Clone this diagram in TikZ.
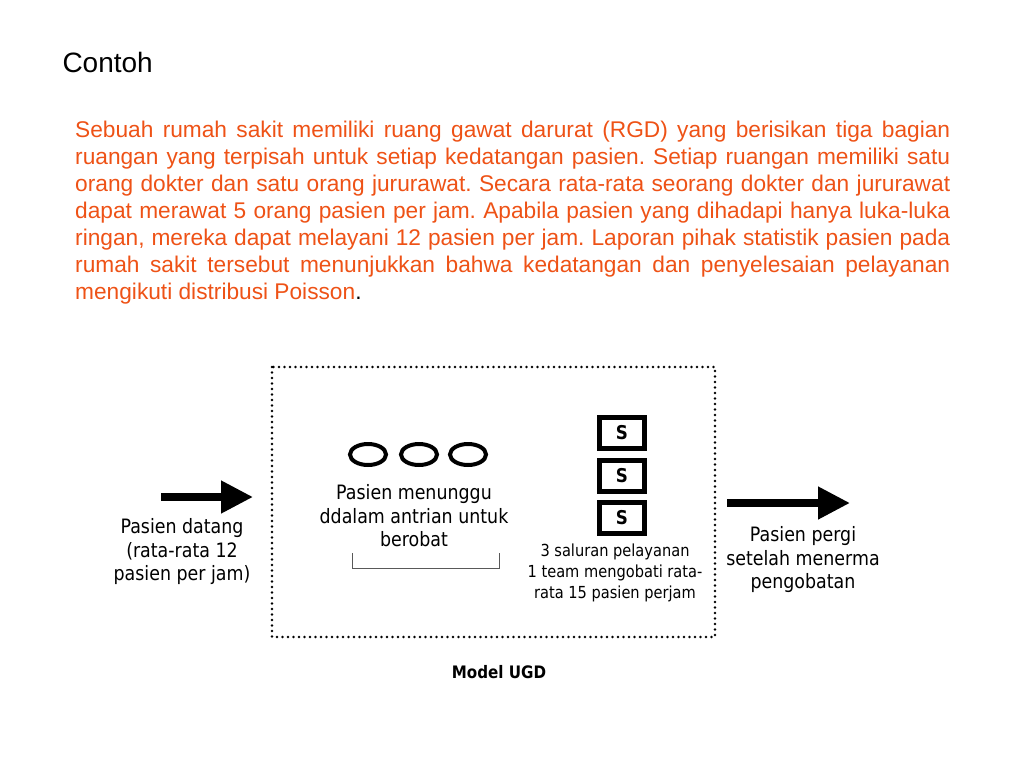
\documentclass[tikz,border=0pt]{standalone}
\usepackage{fontspec}
\setmainfont{Liberation Sans}
\newfontfamily\diagfont{DejaVu Sans}[FakeStretch=0.88]
\usetikzlibrary{positioning, arrows.meta, calc, shapes.geometric}

\definecolor{soalred}{RGB}{238,82,22}

\tikzset{
    antri/.style={draw, ellipse, line width=4pt, minimum width=36pt, minimum height=21pt, inner sep=0pt},
    server/.style={draw, line width=5pt, minimum width=45pt, minimum height=31pt, inner sep=0pt,
        font=\diagfont\bfseries\fontsize{19}{19}\selectfont},
    ket/.style={align=center, font=\diagfont\fontsize{19.8}{23.5}\selectfont},
    ketkecil/.style={align=center, font=\diagfont\fontsize{16.6}{21}\selectfont},
    panah/.style={line width=7.5pt, -{Triangle[length=32pt, width=31pt]}}
}

\begin{document}
\begin{tikzpicture}[x=1pt, y=-1pt]
    \useasboundingbox (0,0) rectangle (1024,768);

    % --- judul dan soal ---
    \node [anchor=base west, font=\fontsize{28}{28}\selectfont] (judul) at (59,72) {Contoh};
    \node [anchor=north west, text width=875pt, inner sep=0pt, align=justify,
           font=\frenchspacing\fontsize{22.7}{27}\selectfont, text=soalred] (soal) at (75,121) {%
        Sebuah rumah sakit memiliki ruang gawat darurat (RGD) yang berisikan tiga bagian\linebreak
        ruangan yang terpisah untuk setiap kedatangan pasien. Setiap ruangan memiliki satu\linebreak
        orang dokter dan satu orang jururawat. Secara rata-rata seorang dokter dan jururawat\linebreak
        dapat merawat 5 orang pasien per jam. Apabila pasien yang dihadapi hanya luka-luka\linebreak
        ringan, mereka dapat melayani 12 pasien per jam. Laporan pihak statistik pasien pada\linebreak
        rumah sakit tersebut menunjukkan bahwa kedatangan dan penyelesaian pelayanan\linebreak
        mengikuti distribusi Poisson\textcolor{black}{.}};

    % --- kotak model ---
    \draw [line width=2.6pt, dash pattern=on 0pt off 5.5pt, line cap=round]
        (272,367) rectangle (715,637);
    \node [font=\diagfont\bfseries\fontsize{17.2}{17.2}\selectfont] (model) at (499,672) {Model UGD};

    % --- antrian ---
    \node [antri] (p1) at (368,454.5) {};
    \node [antri] (p2) at (419,454.5) {};
    \node [antri] (p3) at (468,454.5) {};
    \node [ket] (tunggu) at (414,516) {Pasien menunggu\\ddalam antrian untuk\\berobat};
    \draw [gray!70!black, line width=0.8pt] (352,553) -- (352,568) -- (499,568) -- (499,553);

    % --- pelayanan ---
    \node [server] (s1) at (622,433) {S};
    \node [server] (s2) at (622,475.5) {S};
    \node [server] (s3) at (622,518) {S};
    \node [ketkecil, below=4pt of s3, xshift=-7pt] (layan)
        {3 saluran pelayanan\\1 team mengobati rata-\\rata 15 pasien perjam};

    % --- kedatangan dan kepergian ---
    \coordinate (datang0) at (161,497);
    \coordinate (datang1) at (253,497);
    \draw [panah] (datang0) -- (datang1);
    \node [ket] (datang) at (182,552) {Pasien datang\\(rata-rata 12\\pasien per jam)};

    \coordinate (pergi0) at (727,503);
    \coordinate (pergi1) at (850,503);
    \draw [panah] (pergi0) -- (pergi1);
    \node [ket] (pergi) at (803,560) {Pasien pergi\\setelah menerma\\pengobatan};
\end{tikzpicture}
\end{document}
